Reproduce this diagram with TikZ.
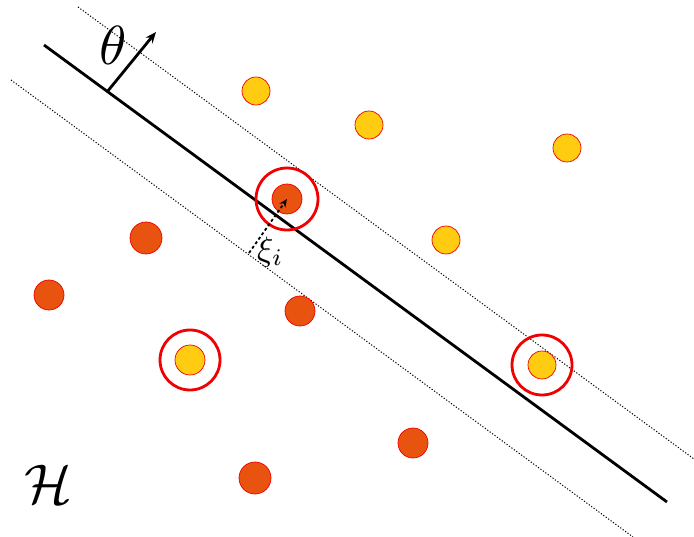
\documentclass[tikz,border=0pt]{standalone}
\usepackage{graphicx}
\usepackage{amsmath}
\usetikzlibrary{arrows.meta}
\definecolor{dotyellow}{RGB}{255,204,17}
\definecolor{dotorange}{RGB}{232,83,15}
\definecolor{ringred}{RGB}{240,0,0}
\tikzset{
  ydot/.style={circle,fill=dotyellow,draw=ringred,line width=0.7pt,minimum size=28pt,inner sep=0pt},
  odot/.style={circle,fill=dotorange,draw=ringred,line width=0.7pt,minimum size=32pt,inner sep=0pt},
  svring/.style={circle,draw=ringred,line width=2.8pt,minimum size=60pt,inner sep=0pt},
  margin/.style={black,line width=1pt,dash pattern=on 1.2pt off 1.8pt},
  mainline/.style={black,line width=2.8pt},
}
\begin{document}
\begin{tikzpicture}[x=1pt,y=-1pt]
\useasboundingbox (0,0) rectangle (694,537);
% lines
\coordinate (m1) at (44,45);
\coordinate (m2) at (667,502);
\coordinate (u1) at (78,7);
\coordinate (u2) at (694,459);
\coordinate (l1) at (11,80);
\coordinate (l2) at (633,537);
\draw[margin] (u1) -- (u2);
\draw[margin] (l1) -- (l2);
\draw[mainline] (m1) -- (m2);
% theta arrow
\coordinate (tbase) at (107,92);
\coordinate (ttip) at (156,32);
\draw[line width=2.8pt,-{Stealth[length=11pt,width=9pt]}] (tbase) -- (ttip);
\node (theta) at (113,45) {\scalebox{5.5}{$\theta$}};
% yellow dots
\node[ydot] (y1) at (256,91) {};
\node[ydot] (y2) at (369,125) {};
\node[ydot] (y3) at (567,148) {};
\node[ydot] (y4) at (446,240) {};
\node[ydot,minimum size=30pt] (y5) at (190,360) {};
\node[ydot] (y6) at (542,365) {};
% orange dots
\node[odot,minimum size=30pt] (o1) at (287,199) {};
\node[odot] (o2) at (146,238) {};
\node[odot,minimum size=30pt] (o3) at (49,295) {};
\node[odot,minimum size=30pt] (o4) at (300,311) {};
\node[odot,minimum size=30pt] (o5) at (413,443) {};
\node[odot] (o6) at (255,478) {};
% rings
\node[svring,minimum size=62pt] (r1) at (287,199) {};
\node[svring] (r2) at (190,360) {};
\node[svring] (r3) at (542,365) {};
% slack
\coordinate (xs) at (249,253);
\coordinate (xe) at (287,199);
\draw[line width=1.8pt,dash pattern=on 3pt off 2.5pt,-{Stealth[length=8pt,width=7pt]}] (xs) -- (xe);
\node[anchor=west,inner sep=0pt] (xi) at (257,252) {\scalebox{3.4}{$\xi_i$}};
% H
\node (H) at (48,484) {\scalebox{5.6}{$\mathcal{H}$}};
\end{tikzpicture}
\end{document}
